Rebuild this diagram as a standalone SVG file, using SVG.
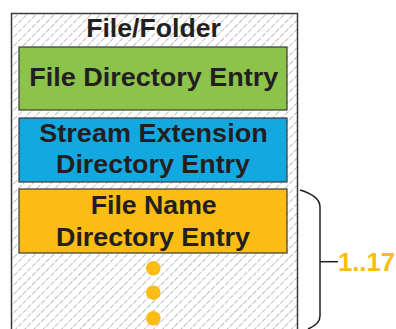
<svg xmlns="http://www.w3.org/2000/svg" width="396" height="329" viewBox="0 0 396 329">
<defs>
<pattern id="hatch" width="6.5" height="6.5" patternUnits="userSpaceOnUse" patternTransform="rotate(45)">
<line x1="3.25" y1="0" x2="3.25" y2="6.5" stroke="#b8b8b8" stroke-width="0.9" stroke-dasharray="3.5 1.4"/>
</pattern>
</defs>
<style>
.box{stroke:#3a3a3a;stroke-width:1.2}
.t{font-family:"Liberation Sans",Arial,sans-serif;font-weight:bold;font-size:25.5px;fill:#231f20;text-anchor:middle}
.dot{fill:#fbbc14}
.br{fill:none;stroke:#231f20;stroke-width:1.5}
</style>
<rect width="396" height="329" fill="#fff"/>
<g id="folder">
<rect x="11.5" y="13.5" width="286" height="330" fill="#fff" stroke="none"/>
<rect x="11.5" y="13.5" width="286" height="330" fill="url(#hatch)" stroke="#3a3a3a" stroke-width="1.5"/>
<text class="t" x="153.5" y="37.3" textLength="134.7" lengthAdjust="spacingAndGlyphs">File/Folder</text>
</g>
<g id="file-dir-entry">
<rect class="box" x="19" y="47" width="268" height="63" fill="#8cc34b"/>
<text class="t" x="153.8" y="86" textLength="249" lengthAdjust="spacingAndGlyphs">File Directory Entry</text>
</g>
<g id="stream-ext-entry">
<rect class="box" x="19" y="118" width="268" height="64" fill="#14a8e0"/>
<text class="t" x="153.5" y="141.7" textLength="228.4" lengthAdjust="spacingAndGlyphs">Stream Extension</text>
<text class="t" x="153" y="173" textLength="194" lengthAdjust="spacingAndGlyphs">Directory Entry</text>
</g>
<g id="file-name-entry">
<rect class="box" x="19" y="189" width="268" height="64" fill="#fbbc14"/>
<text class="t" x="153.7" y="214" textLength="126" lengthAdjust="spacingAndGlyphs">File Name</text>
<text class="t" x="153" y="246" textLength="194" lengthAdjust="spacingAndGlyphs">Directory Entry</text>
</g>
<g id="ellipsis">
<circle class="dot" cx="153.3" cy="268.3" r="7.3"/>
<circle class="dot" cx="153.3" cy="292.7" r="7.3"/>
<circle class="dot" cx="153.3" cy="318.3" r="7.3"/>
</g>
<g id="connectors">
<path class="br" d="M300,190 Q320,196 320,207 L320,316 Q320,324 308,329"/>
<line class="br" x1="320" y1="261.7" x2="338" y2="261.7"/>
</g>
<g id="label">
<text x="338" y="271" font-family="'Liberation Sans',Arial,sans-serif" font-weight="bold" font-size="26.5" fill="#fbbc14" textLength="57" lengthAdjust="spacingAndGlyphs">1..17</text>
</g>
</svg>
